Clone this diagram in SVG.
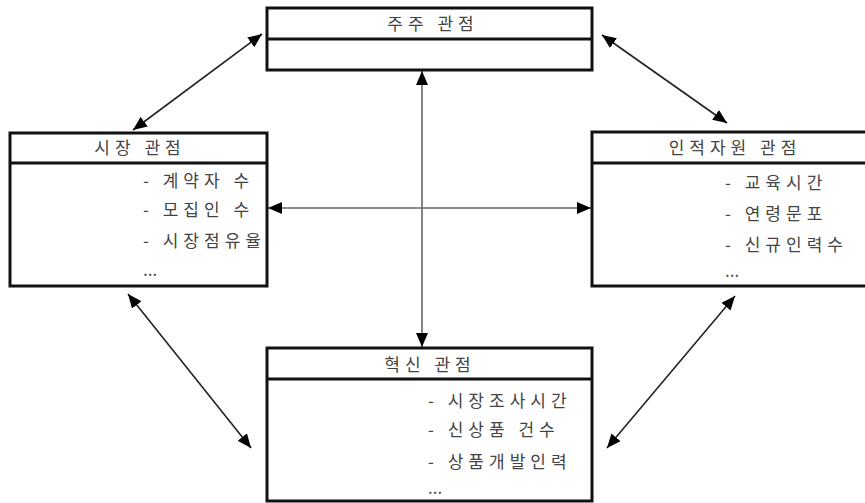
<svg xmlns="http://www.w3.org/2000/svg" width="865" height="503" viewBox="0 0 865 503">
<style>
.box{fill:#fff;stroke:#111;stroke-width:3}
.div{stroke:#111;stroke-width:3}
.t{font-family:"Noto Sans CJK KR","Noto Sans",sans-serif;font-size:17px;fill:#444;letter-spacing:5px}
.dots{letter-spacing:0px}
.ttl{text-anchor:middle}
.conn{stroke:#222;stroke-width:1.6;fill:none;marker-start:url(#ah);marker-end:url(#ah)}
.axis{stroke:#666;stroke-width:1.6;fill:none;marker-start:url(#ah);marker-end:url(#ah)}
</style>
<defs>
<marker id="ah" markerUnits="userSpaceOnUse" markerWidth="14" markerHeight="12" refX="14" refY="6" orient="auto-start-reverse">
<path d="M0,0 L14,6 L0,12 z" fill="#000"/>
</marker>
</defs>
<rect width="865" height="503" fill="#fff"/>
<g id="connectors">
<line class="axis" x1="422" y1="71" x2="422" y2="347"/>
<line class="axis" x1="268" y1="208" x2="591" y2="208"/>
<line class="conn" x1="133" y1="130" x2="262" y2="34"/>
<line class="conn" x1="602" y1="35" x2="727" y2="123"/>
<line class="conn" x1="128" y1="294" x2="251" y2="448"/>
<line class="conn" x1="735" y1="296" x2="607" y2="448"/>
</g>
<g id="shareholder">
<rect class="box" x="267" y="8" width="325" height="62"/>
<line class="div" x1="267" y1="39" x2="592" y2="39"/>
<text class="t ttl" x="433" y="30">주주 관점</text>
</g>
<g id="market">
<rect class="box" x="10" y="133" width="257" height="153"/>
<line class="div" x1="10" y1="163" x2="267" y2="163"/>
<text class="t ttl" x="140" y="154">시장 관점</text>
<text class="t" x="143" y="187">- 계약자 수</text>
<text class="t" x="143" y="216">- 모집인 수</text>
<text class="t" x="143" y="247">- 시장점유율</text>
<text class="t dots" x="143" y="276">...</text>
</g>
<g id="hr">
<rect class="box" x="592" y="132" width="282" height="154"/>
<line class="div" x1="592" y1="163" x2="874" y2="163"/>
<text class="t ttl" x="735" y="154">인적자원 관점</text>
<text class="t" x="725" y="189">- 교육시간</text>
<text class="t" x="725" y="220">- 연령문포</text>
<text class="t" x="725" y="251">- 신규인력수</text>
<text class="t dots" x="725" y="277">...</text>
</g>
<g id="innovation">
<rect class="box" x="267" y="348" width="325" height="153"/>
<line class="div" x1="267" y1="379" x2="592" y2="379"/>
<text class="t ttl" x="430" y="371">혁신 관점</text>
<text class="t" x="428" y="407">- 시장조사시간</text>
<text class="t" x="428" y="436">- 신상품 건수</text>
<text class="t" x="428" y="468">- 상품개발인력</text>
<text class="t dots" x="428" y="494">...</text>
</g>
</svg>
